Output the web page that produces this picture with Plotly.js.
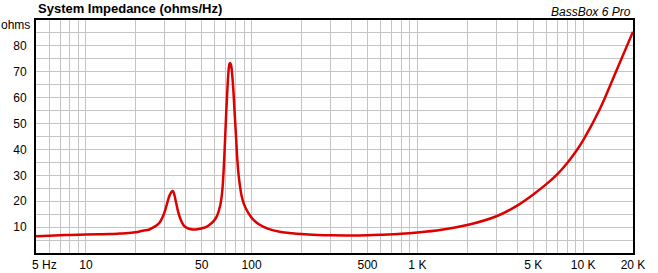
<!DOCTYPE html>
<html>
<head>
<meta charset="utf-8">
<script src="https://cdn.plot.ly/plotly-3.0.1.min.js"></script>
<style>html,body{margin:0;padding:0;background:#fff;}#chart{width:658px;height:273px;}</style>
</head>
<body>
<div id="chart"></div>
<script>
const freqHz = [5,6,7,8,10,12,14,16,18,20,22,24,25,26,27,28,29,30,31,32,33,33.5,34,35,36,37,38,39,41,43,46,49,53,56,59.5,62,64.7,66.5,68.4,70,71.5,72.6,73.5,74.3,75.2,76.3,77.4,79,80.5,82,83.5,85,87,90,93,97,101,110,125,150,175,200,250,300,400,500,600,800,1000,1400,2000,3000,4000,5000,6000,7000,8000,9000,10000,12600,15900,20000];
const impedanceOhms = [6.5,6.7,6.9,7.0,7.1,7.2,7.3,7.5,7.7,8.0,8.6,9.0,9.6,10.2,10.9,12.0,13.8,16.3,19.5,22.3,23.8,23.9,23.0,19.5,16.0,13.5,11.8,10.6,9.6,9.2,9.1,9.4,10.0,11.0,12.6,14.5,18.5,24,37,52,64,70.5,73,73.4,72.5,69,64,54,45,36,30,26,22,18.8,16.8,14.8,13.3,11.2,9.4,8.1,7.6,7.3,7.0,6.85,6.8,6.9,7.05,7.4,7.9,9.0,10.8,14.2,18.3,22.6,26.6,30.5,34.7,39.0,43.5,55.5,70.5,85.5];

const xTickVals = [5,6,7,8,9,10,20,30,40,50,60,70,80,90,100,200,300,400,500,600,700,800,900,1000,2000,3000,4000,5000,6000,7000,8000,9000,10000,20000];
const xLabelMap = {5:"\u00a0\u00a0\u00a0\u00a0\u00a05 Hz",10:"10",50:"50",100:"100",500:"500",1000:"1 K",5000:"5 K",10000:"10 K",20000:"20 K"};
const xTickText = xTickVals.map(v => xLabelMap[v] || "");
const yTickVals = [5,10,15,20,25,30,35,40,45,50,55,60,65,70,75,80,85];
const yTickText = yTickVals.map(v => (v % 10 === 0 ? String(v) : ""));

const font = "Liberation Sans, Arial, sans-serif";

const trace = {
  x: freqHz, y: impedanceOhms, type: "scatter", mode: "lines",
  line: {color: "#dd0000", width: 2.5, shape: "spline", smoothing: 1},
  hoverinfo: "skip"
};

const layout = {
  width: 658, height: 273,
  margin: {l: 36, r: 25, t: 20, b: 20, pad: 0},
  paper_bgcolor: "#ffffff", plot_bgcolor: "#ffffff",
  showlegend: false,
  font: {family: font, size: 12, color: "#000"},
  xaxis: {
    type: "log", range: [Math.log10(5), Math.log10(20000)],
    tickmode: "array", tickvals: xTickVals, ticktext: xTickText,
    showgrid: true, gridcolor: "#c4c4c4", gridwidth: 1,
    showline: true, linecolor: "#000", linewidth: 2, mirror: true,
    ticks: "", zeroline: false, tickfont: {family: font, size: 12, color: "#000"},
    fixedrange: true
  },
  yaxis: {
    range: [0, 90],
    tickmode: "array", tickvals: yTickVals, ticktext: yTickText,
    showgrid: true, gridcolor: "#c4c4c4", gridwidth: 1,
    showline: true, linecolor: "#000", linewidth: 2, mirror: true,
    ticks: "", ticklabelstandoff: 5, zeroline: false,
    tickfont: {family: font, size: 12, color: "#000"},
    fixedrange: true
  },
  annotations: [
    {text: "<b>System Impedance (ohms/Hz)</b>", xref: "paper", yref: "paper", x: 0, y: 1, xanchor: "left", yanchor: "bottom", xshift: 0, yshift: 2, showarrow: false, font: {family: font, size: 13, color: "#000"}},
    {text: "<i>BassBox 6 Pro</i>", xref: "paper", yref: "paper", x: 1, y: 1, xanchor: "right", yanchor: "bottom", yshift: -1, showarrow: false, font: {family: font, size: 12, color: "#000"}},
    {text: "ohms", xref: "paper", yref: "paper", x: 0, y: 1, xanchor: "right", yanchor: "middle", xshift: -4, yshift: -5, showarrow: false, font: {family: font, size: 12, color: "#000"}}
  ]
};

Plotly.newPlot("chart", [trace], layout, {displayModeBar: false, staticPlot: true});
</script>
</body>
</html>
